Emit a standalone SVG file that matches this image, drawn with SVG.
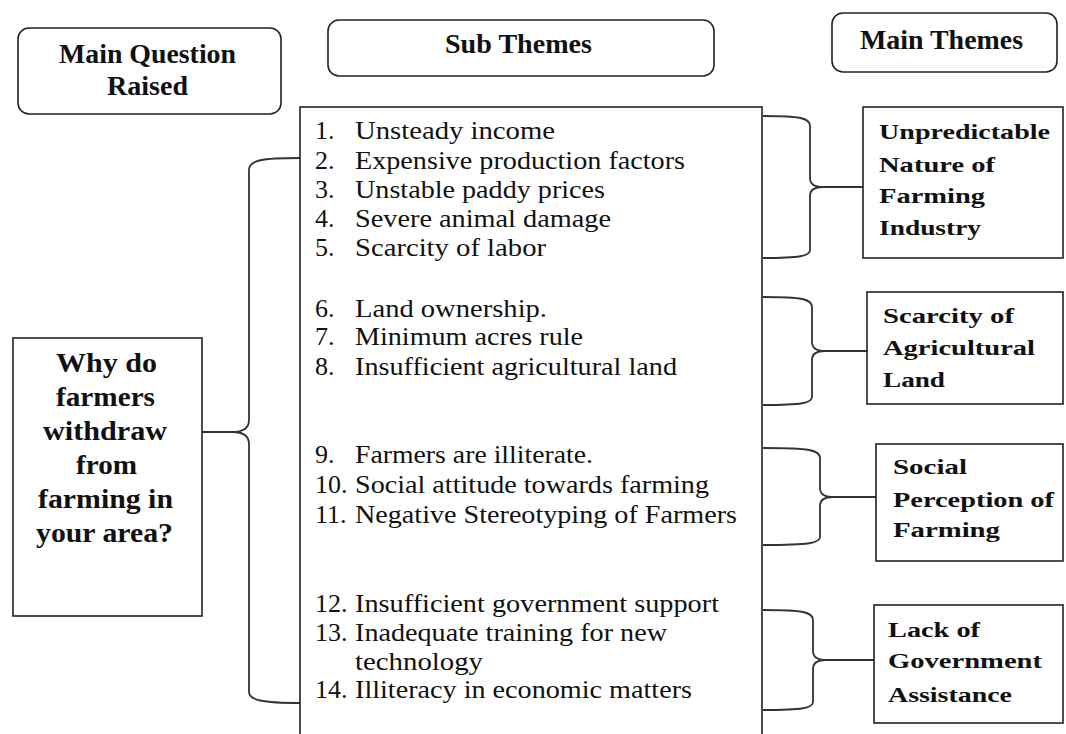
<svg xmlns="http://www.w3.org/2000/svg" width="1066" height="734" viewBox="0 0 1066 734">
<style>
.box{fill:#fff;stroke:#222;stroke-width:1.6}
.hdr{font-family:"Liberation Serif","Times New Roman",serif;font-weight:bold;font-size:27px;fill:#111}
.q{font-family:"Liberation Serif","Times New Roman",serif;font-weight:bold;font-size:27px;fill:#111}
.item{font-family:"Liberation Serif","Times New Roman",serif;font-size:26px;fill:#111}
.theme{font-family:"Liberation Serif","Times New Roman",serif;font-weight:bold;font-size:22px;fill:#111}
.brace{fill:none;stroke:#333;stroke-width:1.8}
</style>
<rect width="1066" height="734" fill="#fff"/>
<g id="connectors">
<path class="brace" d="M300,158 C262,158 249,160 249,170 L249,420 C249,428 244,432 232,432 L202,432 M232,432 C244,432 249,436 249,444 L249,692 C249,700 262,703 300,703"/>
<path class="brace" d="M763,116 C800,116 810,118 810,126 L810,178 C810,184 815,187 823,187 L863,187 M823,187 C815,187 810,190 810,196 L810,250 C810,256 800,258 763,258"/>
<path class="brace" d="M763,297 C802,297 812,299 812,307 L812,342 C812,348 817,351 825,351 L867,351 M825,351 C817,351 812,354 812,360 L812,397 C812,403 802,405 763,405"/>
<path class="brace" d="M763,448 C810,448 820,450 820,458 L820,488 C820,494 825,497 833,497 L876,497 M833,497 C825,497 820,500 820,506 L820,537 C820,543 810,545 763,545"/>
<path class="brace" d="M763,610 C803,610 813,612 813,620 L813,651 C813,657 818,660 826,660 L874,660 M826,660 C818,660 813,663 813,669 L813,702 C813,708 803,710 763,710"/>
</g>
<g id="hdr-question">
<rect class="box" x="18" y="28" width="263" height="86" rx="11"/>
<text class="hdr" x="59" y="63" textLength="177" lengthAdjust="spacingAndGlyphs">Main Question</text>
<text class="hdr" x="107" y="95" textLength="81" lengthAdjust="spacingAndGlyphs">Raised</text>
</g>
<g id="hdr-sub">
<rect class="box" x="328" y="20" width="386" height="56" rx="11"/>
<text class="hdr" x="445" y="53" textLength="147" lengthAdjust="spacingAndGlyphs">Sub Themes</text>
</g>
<g id="hdr-main">
<rect class="box" x="832" y="13" width="225" height="59" rx="11"/>
<text class="hdr" x="860" y="49" textLength="163" lengthAdjust="spacingAndGlyphs">Main Themes</text>
</g>
<g id="question">
<rect class="box" x="13" y="338" width="189" height="278"/>
<text class="q" x="56" y="372" textLength="101" lengthAdjust="spacingAndGlyphs">Why do</text>
<text class="q" x="56" y="406" textLength="99" lengthAdjust="spacingAndGlyphs">farmers</text>
<text class="q" x="43" y="440" textLength="124" lengthAdjust="spacingAndGlyphs">withdraw</text>
<text class="q" x="76" y="474" textLength="61" lengthAdjust="spacingAndGlyphs">from</text>
<text class="q" x="38" y="508" textLength="135" lengthAdjust="spacingAndGlyphs">farming in</text>
<text class="q" x="36" y="542" textLength="137" lengthAdjust="spacingAndGlyphs">your area?</text>
</g>
<g id="subthemes">
<rect class="box" x="300" y="107" width="462" height="640"/>
<text class="item" x="315" y="139">1.</text><text class="item" x="355" y="139" textLength="200" lengthAdjust="spacingAndGlyphs">Unsteady income</text>
<text class="item" x="315" y="169">2.</text><text class="item" x="355" y="169" textLength="330" lengthAdjust="spacingAndGlyphs">Expensive production factors</text>
<text class="item" x="315" y="198">3.</text><text class="item" x="355" y="198" textLength="250" lengthAdjust="spacingAndGlyphs">Unstable paddy prices</text>
<text class="item" x="315" y="227">4.</text><text class="item" x="355" y="227" textLength="256" lengthAdjust="spacingAndGlyphs">Severe animal damage</text>
<text class="item" x="315" y="256">5.</text><text class="item" x="355" y="256" textLength="191" lengthAdjust="spacingAndGlyphs">Scarcity of labor</text>
<text class="item" x="315" y="317">6.</text><text class="item" x="355" y="317" textLength="192" lengthAdjust="spacingAndGlyphs">Land ownership.</text>
<text class="item" x="315" y="345">7.</text><text class="item" x="355" y="345" textLength="228" lengthAdjust="spacingAndGlyphs">Minimum acres rule</text>
<text class="item" x="315" y="375">8.</text><text class="item" x="355" y="375" textLength="322" lengthAdjust="spacingAndGlyphs">Insufficient agricultural land</text>
<text class="item" x="315" y="463">9.</text><text class="item" x="355" y="463" textLength="238" lengthAdjust="spacingAndGlyphs">Farmers are illiterate.</text>
<text class="item" x="315" y="493">10.</text><text class="item" x="355" y="493" textLength="354" lengthAdjust="spacingAndGlyphs">Social attitude towards farming</text>
<text class="item" x="315" y="523">11.</text><text class="item" x="355" y="523" textLength="382" lengthAdjust="spacingAndGlyphs">Negative Stereotyping of Farmers</text>
<text class="item" x="315" y="612">12.</text><text class="item" x="355" y="612" textLength="364" lengthAdjust="spacingAndGlyphs">Insufficient government support</text>
<text class="item" x="315" y="641">13.</text><text class="item" x="355" y="641" textLength="312" lengthAdjust="spacingAndGlyphs">Inadequate training for new</text>
<text class="item" x="355" y="670" textLength="128" lengthAdjust="spacingAndGlyphs">technology</text>
<text class="item" x="315" y="698">14.</text><text class="item" x="355" y="698" textLength="337" lengthAdjust="spacingAndGlyphs">Illiteracy in economic matters</text>
</g>
<g id="theme1">
<rect class="box" x="863" y="107" width="200" height="151"/>
<text class="theme" x="879" y="139" textLength="171" lengthAdjust="spacingAndGlyphs">Unpredictable</text>
<text class="theme" x="879" y="172" textLength="116" lengthAdjust="spacingAndGlyphs">Nature of</text>
<text class="theme" x="879" y="203" textLength="106" lengthAdjust="spacingAndGlyphs">Farming</text>
<text class="theme" x="879" y="235" textLength="102" lengthAdjust="spacingAndGlyphs">Industry</text>
</g>
<g id="theme2">
<rect class="box" x="867" y="292" width="196" height="112"/>
<text class="theme" x="883" y="323" textLength="131" lengthAdjust="spacingAndGlyphs">Scarcity of</text>
<text class="theme" x="883" y="355" textLength="152" lengthAdjust="spacingAndGlyphs">Agricultural</text>
<text class="theme" x="883" y="387" textLength="62" lengthAdjust="spacingAndGlyphs">Land</text>
</g>
<g id="theme3">
<rect class="box" x="876" y="444" width="187" height="117"/>
<text class="theme" x="893" y="474" textLength="74" lengthAdjust="spacingAndGlyphs">Social</text>
<text class="theme" x="893" y="507" textLength="161" lengthAdjust="spacingAndGlyphs">Perception of</text>
<text class="theme" x="893" y="537" textLength="107" lengthAdjust="spacingAndGlyphs">Farming</text>
</g>
<g id="theme4">
<rect class="box" x="874" y="605" width="189" height="118"/>
<text class="theme" x="888" y="637" textLength="92" lengthAdjust="spacingAndGlyphs">Lack of</text>
<text class="theme" x="888" y="668" textLength="154" lengthAdjust="spacingAndGlyphs">Government</text>
<text class="theme" x="888" y="702" textLength="124" lengthAdjust="spacingAndGlyphs">Assistance</text>
</g>
</svg>
